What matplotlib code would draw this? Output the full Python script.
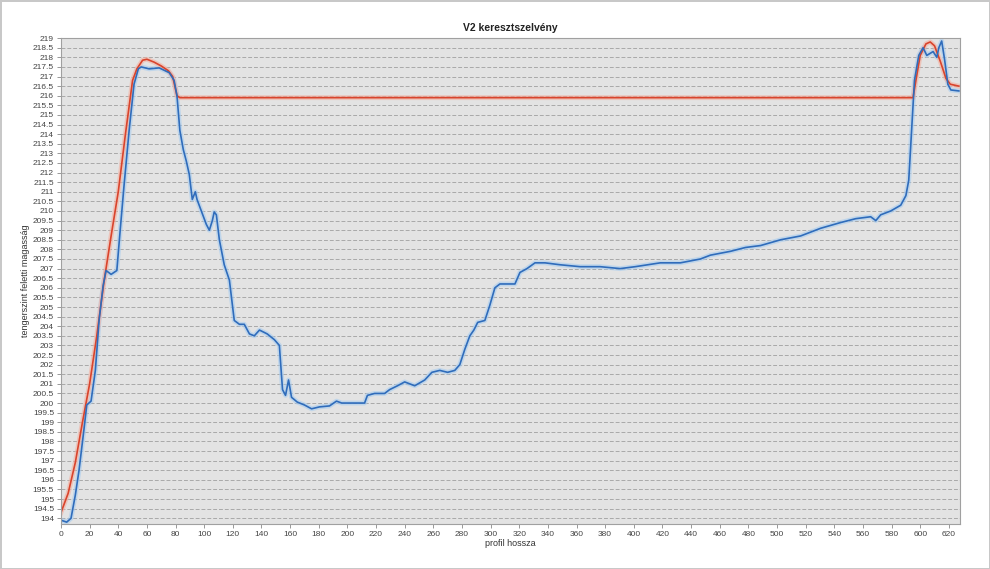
import matplotlib.pyplot as plt
import numpy as np

# profil hossza (m) / magasság (m) - terep (kék)
terep_x = [0, 4, 7, 10, 12.6, 16, 18, 21, 24, 26.6, 29.4, 31.5, 35, 39, 41, 44, 47.6, 51, 54, 56,
           61.6, 68.6, 75.6, 79, 81, 83, 85.4, 87.5, 89.6, 91.7, 93.8, 95, 98, 101.5, 103.6, 105.7,
           107, 108.5, 110.6, 114, 117.6, 121, 124.6, 128, 131.6, 135, 138.6, 144, 149, 152.5,
           154.7, 156.8, 158.9, 161, 165, 170, 175, 180.5, 187.5, 192.4, 196, 201.5, 212, 214,
           219, 226, 229.5, 235, 240, 247, 254, 259, 264.5, 270, 275, 278.5, 282, 285.5, 288.3,
           291, 296, 299.5, 303, 306.5, 312, 317, 320.5, 325.4, 331, 338, 348.5, 362.5, 376.5,
           390.5, 401, 418.5, 432.5, 446.5, 453.5, 467.5, 478, 488.5, 502.5, 516.5, 530.5, 544.5,
           555, 565.4, 569, 572.4, 579.4, 586.4, 590, 592, 594, 596, 599, 602, 604.6, 609, 611.6,
           613, 615, 617, 619.3, 621.4, 627]
terep_y = [193.9, 193.8, 194.0, 195.2, 196.5, 198.6, 199.9, 200.1, 201.7, 204.3, 206.1, 206.9,
           206.7, 206.9, 208.7, 211.3, 214.2, 216.6, 217.4, 217.5,
           217.4, 217.45, 217.2, 216.8, 216.0, 214.2, 213.2, 212.6, 211.9, 210.6, 211.0, 210.6,
           210.0, 209.3, 209.0, 209.5, 209.95, 209.8, 208.5, 207.2, 206.4, 204.3, 204.1, 204.1,
           203.6, 203.5, 203.8, 203.6, 203.3, 203.0, 200.7, 200.4, 201.2, 200.3, 200.05, 199.9,
           199.7, 199.8, 199.85, 200.1, 200.0, 200.0, 200.0, 200.4, 200.5, 200.5, 200.7, 200.9,
           201.1, 200.9, 201.2, 201.6, 201.7, 201.6, 201.7, 202.0, 202.8, 203.5, 203.8, 204.2,
           204.3, 205.1, 206.0, 206.2, 206.2, 206.2, 206.8, 207.0, 207.3, 207.3, 207.2, 207.1,
           207.1, 207.0, 207.1, 207.3, 207.3, 207.5, 207.7, 207.9, 208.1, 208.2, 208.5, 208.7,
           209.1, 209.4, 209.6, 209.7, 209.5, 209.8, 210.0, 210.3, 210.8, 211.6, 214.2, 216.8,
           218.1, 218.5, 218.1, 218.3, 218.0, 218.5, 218.85, 217.9, 216.6, 216.3, 216.25]

# tervezett szint (piros)
terv_x = [0, 5, 10, 15, 20, 25, 30, 35, 40, 45, 50, 53, 57, 60, 65, 70, 75, 78, 81, 83, 595,
          597, 600, 604, 607, 610, 614, 618, 621, 627]
terv_y = [194.3, 195.3, 196.9, 199.0, 201.0, 203.5, 206.3, 208.7, 211.0, 214.0, 216.8, 217.4,
          217.85, 217.9, 217.75, 217.55, 217.3, 217.0, 216.0, 215.9, 215.9,
          216.8, 218.1, 218.7, 218.8, 218.6, 217.8, 216.9, 216.6, 216.5]

plt.rcParams['font.family'] = ['Liberation Sans', 'DejaVu Sans']

fig = plt.figure(figsize=(9.9, 5.69), dpi=100)
fig.patch.set_edgecolor('#c8c8c8')
fig.patch.set_linewidth(2)
ax = fig.add_axes([0.0616, 0.079, 0.9084, 0.854])
ax.set_facecolor('#e3e3e3')

ax.plot(terep_x, terep_y, color='#a8cdf0', linewidth=3.5, alpha=0.6, solid_joinstyle='round')
ax.plot(terv_x, terv_y, color='#f4b0a0', linewidth=3.5, alpha=0.6, solid_joinstyle='round')
ax.plot(terv_x, terv_y, color='#d9442c', linewidth=1.2)
ax.plot(terep_x, terep_y, color='#2f6cbb', linewidth=1.2)

ax.set_xlim(0, 628)
ax.set_ylim(193.7, 219)
ax.set_xticks(np.arange(0, 621, 20))
yt = np.arange(194, 219.01, 0.5)
ax.set_yticks(yt)
ax.set_yticklabels([('%g' % v) for v in yt])
ax.tick_params(labelsize=6, labelcolor='#444444', length=3, width=0.6, color='#888888', pad=2)
ax.grid(axis='y', color='#a9a9a9', linestyle=(0, (4, 2)), linewidth=0.7)
ax.set_axisbelow(True)
for s in ax.spines.values():
    s.set_color('#a0a0a0')

ax.set_title('V2 keresztszelvény', fontsize=7.5, fontweight='bold', color='#222222', pad=5)
ax.set_xlabel('profil hossza', fontsize=6.5, color='#333333', labelpad=1)
ax.set_ylabel('tengerszint feletti magasság', fontsize=6.5, color='#333333', labelpad=2)

fig.savefig('out.png', dpi=100, edgecolor=fig.get_edgecolor())
